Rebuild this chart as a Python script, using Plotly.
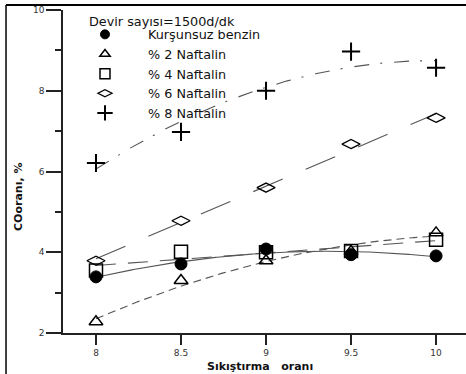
import numpy as np
import plotly.graph_objects as go

# ---- data ----
x_vals = [8, 8.5, 9, 9.5, 10]
kursunsuz = [3.39, 3.71, 4.08, 3.94, 3.91]
naftalin2 = [2.28, 3.30, 3.79, 4.02, 4.48]
naftalin4 = [3.55, 4.01, 4.00, 4.03, 4.31]
naftalin6 = [3.79, 4.78, 5.60, 6.68, 7.33]
naftalin8 = [6.21, 6.98, 8.00, 8.97, 8.57]
series_names = ["Kurşunsuz benzin", "% 2 Naftalin", "% 4 Naftalin", "% 6 Naftalin", "% 8 Naftalin"]
fit_degree = [2, 2, 1, 1, 2]
legend_title = "Devir sayısı=1500d/dk"
x_title = "Sıkıştırma\u00a0\u00a0 oranı"
y_title = "COoranı, %"
x_ticks = [8, 8.5, 9, 9.5, 10]
x_tick_labels = ["8", "8.5", "9", "9.5", "10"]
y_ticks = [2, 4, 6, 8, 10]
y_tick_labels = ["2", "4", "6", "8", "10"]

series = [kursunsuz, naftalin2, naftalin4, naftalin6, naftalin8]

# ---- styles ----
FONT = "DejaVu Sans"
symbols = ["circle", "triangle-up-open", "square-open", "diamond-wide-open", "cross-thin-open"]
sizes = [12, 12, 13, 13, 13]
leg_sizes = [9, 9, 10, 10, 11]
line_widths = [1, 1.5, 1.5, 1.3, 2]
dashes = ["solid", "8px,5px", "20px,12px", "32px,25px", "15px,11px,2px,12px"]
LINE_COLOR = "#555555"

fig = go.Figure()

xs = np.linspace(x_vals[0], x_vals[-1], 200)
for ys, deg, dash in zip(series, fit_degree, dashes):
    coef = np.polyfit(x_vals, ys, deg)
    fig.add_trace(go.Scatter(x=xs, y=np.polyval(coef, xs), mode="lines",
                             line=dict(color=LINE_COLOR, width=1.1, dash=dash),
                             showlegend=False, hoverinfo="skip"))

for ys, name, sym, sz, lw in zip(series, series_names, symbols, sizes, line_widths):
    fig.add_trace(go.Scatter(x=x_vals, y=ys, mode="markers", name=name, showlegend=False,
                             marker=dict(symbol=sym, size=sz, color="black",
                                         line=dict(color="black", width=lw))))

# legend-only entries (smaller symbols as in the reference legend)
for name, sym, sz, lw in zip(series_names, symbols, leg_sizes, line_widths):
    fig.add_trace(go.Scatter(x=[None], y=[None], mode="markers", name=name,
                             marker=dict(symbol=sym, size=sz, color="black",
                                         line=dict(color="black", width=lw))))

fig.update_layout(
    width=466, height=374,
    margin=dict(l=63, r=0, t=10, b=41),
    paper_bgcolor="white", plot_bgcolor="white",
    font=dict(family=FONT, size=9, color="#222"),
    showlegend=True,
    legend=dict(x=-0.0025, y=0.9705, xanchor="left", yanchor="top",
                bgcolor="rgba(0,0,0,0)", itemwidth=76,
                font=dict(family=FONT, size=12.8, color="#111")),
    xaxis=dict(range=[7.806, 10.176], showgrid=False, zeroline=False,
               showline=True, linecolor="#222", linewidth=1.5,
               ticks="outside", ticklen=10, tickwidth=1.5, tickcolor="#222",
               tickvals=x_ticks, ticktext=x_tick_labels,
               tickfont=dict(family=FONT, size=9, color="#333")),
    yaxis=dict(range=[2, 10], showgrid=False, zeroline=False,
               showline=True, linecolor="#222", linewidth=1.5,
               ticks="outside", ticklen=15, tickwidth=1.5, tickcolor="#222",
               tickvals=y_ticks, ticktext=y_tick_labels,
               tickfont=dict(family=FONT, size=9, color="#333"),
               minor=dict(ticks="outside", ticklen=6, tickwidth=1.5, tickcolor="#222",
                          dtick=1, tick0=1, showgrid=False)),
    annotations=[
        dict(text=legend_title, x=0.0596, y=0.963, xref="paper", yref="paper",
             xanchor="left", yanchor="middle", showarrow=False,
             font=dict(family=FONT, size=12.8, color="#111")),
        dict(text="<b>" + x_title + "</b>", x=0.489, y=-0.105, xref="paper", yref="paper",
             xanchor="center", yanchor="middle", showarrow=False,
             font=dict(family=FONT, size=11, color="#111")),
        dict(text="<b>" + y_title + "</b>", x=-0.1117, y=0.421, xref="paper", yref="paper",
             xanchor="center", yanchor="middle", showarrow=False, textangle=-90,
             font=dict(family=FONT, size=11, color="#111")),
    ],
    shapes=[
        dict(type="line", xref="paper", yref="paper", x0=-0.1414, x1=1.0, y0=1.0155, y1=1.0155,
             line=dict(color="black", width=2)),
        dict(type="line", xref="paper", yref="paper", x0=-0.1414, x1=-0.1414, y0=1.0155, y1=-0.13,
             line=dict(color="black", width=1.5)),
    ],
)

fig.write_html("out.html", config={"displayModeBar": False},
               post_script="document.body.style.margin='0';")
